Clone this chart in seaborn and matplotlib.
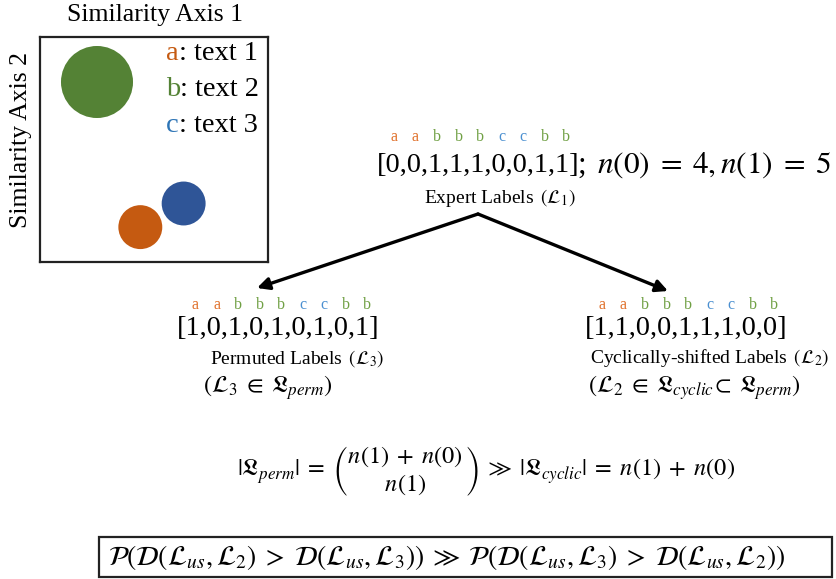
import matplotlib
matplotlib.use("Agg")
import matplotlib.pyplot as plt
import seaborn as sns
import pandas as pd
from matplotlib.patches import Rectangle, FancyArrowPatch

sns.set_theme(style="white")
plt.rcParams['font.family'] = ['Liberation Serif', 'DejaVu Serif']
plt.rcParams['mathtext.fontset'] = 'stix'
plt.rcParams['text.color'] = 'black'

# ---- data ----
groups = ['a', 'b', 'c']
group_text = ['text 1', 'text 2', 'text 3']
pos_x = [0.44, 0.25, 0.63]
pos_y = [0.155, 0.80, 0.26]
circle_size = [1000, 2690, 1000]
circle_color = {'a': '#C55A11', 'b': '#548235', 'c': '#2F5597'}
text_color = {'a': '#C55A11', 'b': '#548235', 'c': '#2E75B6'}
small_color = {'a': '#E0702A', 'b': '#70A044', 'c': '#4A8FD0'}

item_groups = list('aabbbccbb')
expert_labels = [0, 0, 1, 1, 1, 0, 0, 1, 1]
permuted_labels = [1, 0, 1, 0, 1, 0, 1, 0, 1]
cyclic_labels = [1, 1, 0, 0, 1, 1, 1, 0, 0]

W, H = 836, 579
fig = plt.figure(figsize=(W / 100, H / 100), dpi=100)

# ---- inset scatter ----
ax = fig.add_axes([40 / W, 1 - 262 / H, 228 / W, 225 / H])
df = pd.DataFrame({'x': pos_x, 'y': pos_y, 'g': groups})
sns.scatterplot(data=df, x='x', y='y', hue='g', palette=circle_color,
                size='g', sizes=dict(zip(groups, circle_size)),
                legend=False, linewidth=0, alpha=1, ax=ax)
ax.set_xlim(0, 1)
ax.set_ylim(0, 1)
ax.set_xticks([])
ax.set_yticks([])
ax.set_xlabel('')
ax.set_ylabel('')
for s in ax.spines.values():
    s.set_visible(True)
    s.set_color('#222222')
    s.set_linewidth(1.6)

# overlay axes in pixel coordinates (on top, transparent)
ov = fig.add_axes([0, 0, 1, 1])
ov.set_xlim(0, W)
ov.set_ylim(H, 0)
ov.axis('off')
ov.patch.set_alpha(0)

ov.text(155, 15, 'Similarity Axis 1', fontsize=18.5, ha='center', va='center')
ov.text(21, 140, 'Similarity Axis 2', fontsize=18.5, ha='center', va='center', rotation=90)

for i, (g, t) in enumerate(zip(groups, group_text)):
    y = 53 + i * 36
    tg = ov.text(166, y, g, fontsize=20.5, color=text_color[g], ha='left', va='center')
    ov.annotate(': ' + t, xycoords=tg, xy=(1, 0), va='bottom', ha='left',
                fontsize=20.5, color='black')


def label_block(x0, y_letters, y_vec, labels, step, first):
    ov.text(x0, y_vec, '[' + ','.join(str(v) for v in labels) + ']',
            fontsize=20.5, ha='left', va='center')
    for i, g in enumerate(item_groups):
        ov.text(first + i * step, y_letters, g, fontsize=11.5,
                color=small_color[g], ha='center', va='center')


# expert labels
label_block(377, 137, 165, expert_labels, 21.5, 394)
ov.text(577, 165, r'; $\,n(0)\;=\;4,n(1)\;=\;5$', fontsize=22.5, ha='left', va='center')
ov.text(500, 198, r'Expert Labels $\,(\mathcal{L}_1)$', fontsize=14, ha='center', va='center')

# arrows
for tip in [(257, 288), (668, 291)]:
    ov.add_patch(FancyArrowPatch((478, 214), tip, arrowstyle='-|>', mutation_scale=18,
                                 color='black', lw=2.4, shrinkA=0, shrinkB=0))

# permuted labels
label_block(177, 305, 328, permuted_labels, 21.5, 195)
ov.text(297, 359, r'Permuted Labels $\,(\mathcal{L}_3)$', fontsize=14, ha='center', va='center')
ov.text(203, 388, r'$(\mathcal{L}_3\; \in\; \mathfrak{L}_{perm})$', fontsize=17.5, ha='left', va='center')

# cyclic labels
label_block(585, 305, 328, cyclic_labels, 21.5, 602)
ov.text(710, 358, r'Cyclically-shifted Labels $\,(\mathcal{L}_2)$', fontsize=14, ha='center', va='center')
ov.text(588, 388, r'$(\mathcal{L}_2\; \in\; \mathfrak{L}_{cyclic}\!\subset\; \mathfrak{L}_{perm})$',
        fontsize=17.5, ha='left', va='center')

# cardinality formula
ov.text(486, 471, r'$|\mathfrak{L}_{perm}|\;=\;\genfrac{(}{)}{0}{0}{n(1)\;+\;n(0)}{n(1)}\;\gg\;|\mathfrak{L}_{cyclic}|\;=\;n(1)\;+\;n(0)$',
        fontsize=17.5, ha='center', va='center')

# boxed probability
ov.add_patch(Rectangle((99, 537), 733, 40, fill=False, edgecolor='#222222', lw=1.6))
ov.text(108, 557, r'$\mathcal{P}(\mathcal{D}(\mathcal{L}_{us},\mathcal{L}_2)\;>\;\mathcal{D}(\mathcal{L}_{us},\mathcal{L}_3))\;\gg\;\mathcal{P}(\mathcal{D}(\mathcal{L}_{us},\mathcal{L}_3)\;>\;\mathcal{D}(\mathcal{L}_{us},\mathcal{L}_2))$',
        fontsize=20, ha='left', va='center')

fig.savefig('out.png', dpi=100)
